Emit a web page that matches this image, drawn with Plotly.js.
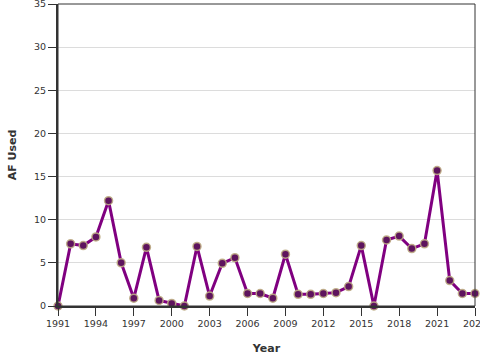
<!DOCTYPE html>
<html>
<head>
<meta charset="utf-8">
<script src="https://cdn.plot.ly/plotly-3.0.1.min.js"></script>
<style>html,body{margin:0;padding:0;background:#fff;}#chart{width:480px;height:360px;}</style>
</head>
<body>
<div id="chart"></div>
<script>
const years = [1991,1992,1993,1994,1995,1996,1997,1998,1999,2000,2001,2002,2003,2004,2005,2006,2007,2008,2009,2010,2011,2012,2013,2014,2015,2016,2017,2018,2019,2020,2021,2022,2023,2024];
const afUsed = [0,7.2,7.0,8.0,12.2,5.0,0.9,6.8,0.65,0.3,0,6.9,1.15,4.95,5.6,1.45,1.45,0.9,6.0,1.35,1.35,1.45,1.55,2.25,7.0,0,7.65,8.1,6.65,7.2,15.7,2.95,1.45,1.45];
const xTicks = [1991,1994,1997,2000,2003,2006,2009,2012,2015,2018,2021,2024];
const yTicks = [0,5,10,15,20,25,30,35];

const fontFam = '"DejaVu Sans", Verdana, sans-serif';
Plotly.newPlot('chart', [{
  x: years, y: afUsed, type: 'scatter', mode: 'lines+markers',
  line: {color: '#800080', width: 3},
  marker: {color: '#5e145e', size: 8, line: {color: 'rgba(190,172,132,0.9)', width: 1.5}},
  cliponaxis: false, hoverinfo: 'x+y'
}], {
  width: 480, height: 360,
  margin: {l: 58, r: 5, t: 4, b: 54},
  paper_bgcolor: '#fff', plot_bgcolor: '#fff',
  showlegend: false,
  font: {family: fontFam, color: '#333', size: 9},
  xaxis: {
    range: [1991, 2024], tickvals: xTicks, ticktext: xTicks.map(String),
    showgrid: false, zeroline: false,
    showline: true, linecolor: '#333', linewidth: 2,
    ticks: 'outside', ticklen: 8, tickwidth: 1, tickcolor: '#333',
    tickfont: {size: 9.5, color: '#333'}, ticklabeloverflow: 'allow',
    title: {text: 'Year', font: {size: 11, color: '#333', weight: 'bold'}, standoff: 16}
  },
  yaxis: {
    range: [0, 35], tickvals: yTicks,
    showgrid: true, gridcolor: '#dcdcdc', gridwidth: 1, zeroline: false,
    showline: true, linecolor: '#333', linewidth: 2,
    ticks: 'outside', ticklen: 8, tickwidth: 1, tickcolor: '#333',
    tickfont: {size: 9.5, color: '#333'}, ticklabeloverflow: 'allow',
    title: {text: 'AF Used', font: {size: 11, color: '#333', weight: 'bold'}, standoff: 15}
  },
  shapes: [{type: 'rect', xref: 'paper', yref: 'paper', x0: 0, x1: 1, y0: 0, y1: 1, line: {color: '#333', width: 1}, layer: 'above'}]
}, {displayModeBar: false, staticPlot: true});
</script>
</body>
</html>
